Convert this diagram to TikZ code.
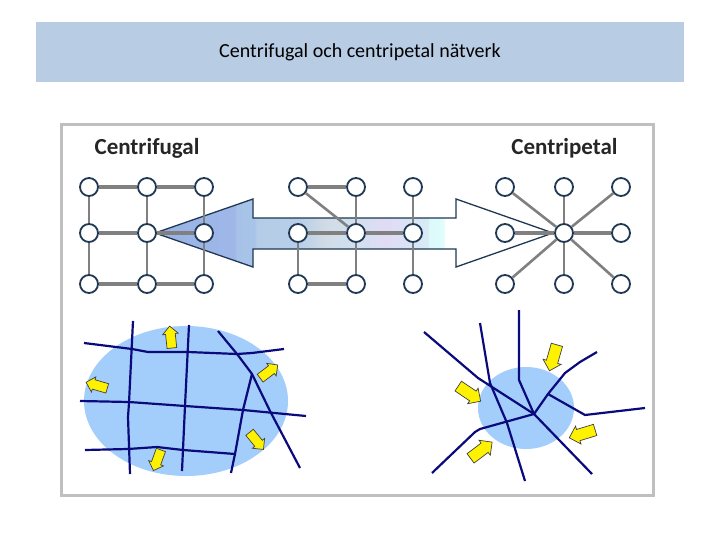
\documentclass[tikz,border=0pt]{standalone}
\usepackage{fontspec}
\setmainfont{Carlito}
\usetikzlibrary{shapes.arrows}
\definecolor{bandblue}{RGB}{184,204,228}
\definecolor{framegray}{RGB}{191,191,191}
\definecolor{ringblue}{RGB}{31,56,84}
\definecolor{linkgray}{RGB}{128,128,128}
\definecolor{cityblue}{RGB}{163,205,250}
\definecolor{streetblue}{RGB}{10,10,125}
\pgfdeclarehorizontalshading{flowshade}{100bp}{
  rgb(0bp)=(0.60,0.70,0.90);
  rgb(25bp)=(0.60,0.70,0.90);
  rgb(35bp)=(0.62,0.72,0.91);
  rgb(35.3bp)=(0.65,0.76,0.91);
  rgb(37.5bp)=(0.66,0.77,0.91);
  rgb(37.8bp)=(0.71,0.80,0.91);
  rgb(43bp)=(0.72,0.81,0.91);
  rgb(46.5bp)=(0.82,0.86,0.90);
  rgb(50bp)=(0.82,0.88,0.94);
  rgb(54bp)=(0.88,0.86,0.96);
  rgb(59.2bp)=(0.84,0.92,0.96);
  rgb(59.5bp)=(0.86,0.98,0.98);
  rgb(61.2bp)=(0.88,0.99,0.99);
  rgb(61.5bp)=(1,1,1);
  rgb(100bp)=(1,1,1)}
\tikzset{
  hub/.style={circle, draw=ringblue, line width=1.8pt, fill=white, minimum size=18pt, inner sep=0pt},
  thicklink/.style={draw=linkgray, line width=3.6pt},
  thinlink/.style={draw=linkgray, line width=2.6pt},
  street/.style={draw=streetblue, line width=2.2pt},
  push/.style={single arrow, draw=black!75, line width=0.7pt, fill=yellow, inner xsep=0pt,
    inner ysep=4.5pt, single arrow head extend=3pt, single arrow tip angle=90, minimum height=22pt},
  bigpush/.style={push, inner ysep=5.5pt, single arrow head extend=3.5pt, minimum height=27pt}
}
\begin{document}
\begin{tikzpicture}[x=1pt, y=-1pt]
    \useasboundingbox (0,0) rectangle (720,540);

    % Title band
    \fill[bandblue] (36,22) rectangle (684,82);
    \node[font=\fontsize{20}{24}\selectfont] (title) at (360,52) {Centrifugal och centripetal nätverk};

    % Frame
    \draw[framegray, line width=3pt, fill=white] (61.5,124.5) rectangle (653.5,495);

    % Headings
    \node[font=\fontsize{23}{26}\selectfont\bfseries, text=black!85] (leftname) at (147,148) {Centrifugal};
    \node[font=\fontsize{23}{26}\selectfont\bfseries, text=black!85] (rightname) at (564.5,148) {Centripetal};

    % Double arrow between the grids
    \path[shading=flowshade, draw=ringblue, line width=1.3pt]
      (155,233) -- (253,199) -- (253,218) -- (456,218) -- (456,199) -- (553,233)
      -- (456,267) -- (456,249) -- (253,249) -- (253,267) -- cycle;

    % Grids of nodes
    \foreach \gname/\xa/\xb/\xc in {l/89/147/204, m/298/356/413, r/505/564/621} {
      \node[hub] (\gname11) at (\xa,187) {};
      \node[hub] (\gname12) at (\xb,187) {};
      \node[hub] (\gname13) at (\xc,187) {};
      \node[hub] (\gname21) at (\xa,233) {};
      \node[hub] (\gname22) at (\xb,233) {};
      \node[hub] (\gname23) at (\xc,233) {};
      \node[hub] (\gname31) at (\xa,284) {};
      \node[hub] (\gname32) at (\xb,284) {};
      \node[hub] (\gname33) at (\xc,284) {};
    }

    % Left grid links
    \foreach \a/\b in {l11/l12, l12/l13, l21/l22, l22/l23, l31/l32, l32/l33}
      \draw[thicklink] (\a) -- (\b);
    \foreach \a/\b in {l11/l21, l21/l31, l12/l22, l22/l32, l13/l23, l23/l33}
      \draw[thinlink] (\a) -- (\b);

    % Middle grid links
    \foreach \a/\b in {m11/m12, m21/m22, m22/m23, m31/m32}
      \draw[thicklink] (\a) -- (\b);
    \foreach \a/\b in {m21/m31, m12/m22, m22/m32, m13/m23, m23/m33, m11/m22}
      \draw[thinlink] (\a) -- (\b);

    % Right grid links
    \foreach \a in {r21, r23}
      \draw[thicklink] (\a) -- (r22);
    \foreach \a in {r11, r12, r13, r31, r32, r33}
      \draw[thinlink] (\a) -- (r22);

    % Left city
    \fill[cityblue] (186,401) ellipse [x radius=102, y radius=75];
    \draw[street] (84,343) -- (132,349) -- (148,352) -- (188,352) -- (237,354) -- (252,353) -- (284,349);
    \draw[street] (133,321) -- (129,403) -- (128,417) -- (130,474);
    \draw[street] (189,325) -- (185,406) -- (182,471);
    \draw[street] (80,401) -- (129,402) -- (185,406) -- (243,410) -- (306,416);
    \draw[street] (85,450) -- (128,449) -- (157,447) -- (183,450) -- (235,454);
    \draw[street] (218,331) -- (237,354) -- (252,374) -- (270,411) -- (300,468);
    \draw[street] (252,374) -- (243,410) -- (235,454) -- (231,473);

    % Right city
    \fill[cityblue] (526,408) ellipse [x radius=48, y radius=41];
    \draw[street] (424,332) -- (478,378) -- (534,414) -- (592,474);
    \draw[street] (480,323) -- (490,383) -- (507,423) -- (525,481);
    \draw[street] (519,310) -- (519,380) -- (534,414);
    \draw[street] (432,473) -- (475,432) -- (480,429) -- (534,414) -- (548,394) -- (565,373) -- (580,362) -- (597,352);
    \draw[street] (548,394) -- (585,415) -- (645,408);

    % Yellow arrows, left city
    \node[push, rotate=96] (outn) at (171,339.5) {};
    \node[push, rotate=164] (outw) at (99,386) {};
    \node[push, rotate=37] (oute) at (267,373) {};
    \node[push, rotate=-51] (outse) at (255,439) {};
    \node[push, rotate=250] (outs) at (158,458) {};

    % Yellow arrows, right city
    \node[bigpush, rotate=254] (inn) at (554,355) {};
    \node[bigpush, rotate=-34] (inw) at (467,392) {};
    \node[bigpush, rotate=197] (ine) at (585,433) {};
    \node[bigpush, rotate=37] (ins) at (479,452) {};
\end{tikzpicture}
\end{document}
